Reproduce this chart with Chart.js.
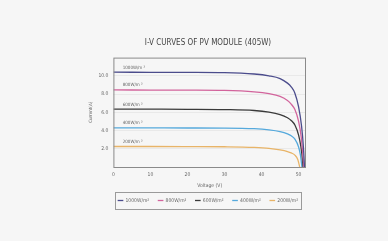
<!DOCTYPE html>
<html>
<head>
<meta charset="utf-8">
<script src="https://cdn.jsdelivr.net/npm/chart.js@4/dist/chart.umd.min.js"></script>
<style>
  html, body { margin: 0; padding: 0; background: #f6f6f6; }
  #wrap { width: 388px; height: 241px; }
</style>
</head>
<body>
<div id="wrap"><canvas id="ivChart"></canvas></div>
<script>
// Etiketler ve değerler (resimden okunan yaklaşık değerler)
const curveLabels = ["1000W/m²", "800W/m²", "600W/m²", "400W/m²", "200W/m²"];
const noteLabels = ["1000W/m ²", "800W/m ²", "600W/m ²", "400W/m ²", "200W/m ²"];
const curveColors = ["#4b4c8c", "#d2649c", "#3a3a3a", "#55a9dc", "#e8b468"];

// Gerilim (V) noktaları, her eğri için ayrı
const volt1000 = [0, 10, 20, 30, 38, 42, 45, 47, 48, 49, 50, 50.8, 51.3, 51.6];
const amp1000  = [10.4, 10.39, 10.38, 10.35, 10.2, 10.0, 9.7, 9.2, 8.8, 8.1, 6.6, 4.5, 2.2, 0];
const volt800  = [0, 10, 20, 30, 38, 42, 45, 47, 48, 49, 50, 50.7, 51.1, 51.4];
const amp800   = [8.45, 8.44, 8.43, 8.4, 8.25, 8.05, 7.75, 7.3, 6.9, 6.3, 5.0, 3.3, 1.6, 0];
const volt600  = [0, 10, 20, 30, 38, 42, 45, 47, 48, 49, 50, 50.6, 51.0, 51.2];
const amp600   = [6.35, 6.34, 6.33, 6.3, 6.2, 6.02, 5.75, 5.4, 5.1, 4.6, 3.5, 2.3, 1.0, 0];
const volt400  = [0, 10, 20, 30, 38, 42, 45, 47, 48, 49, 50, 50.5, 50.9];
const amp400   = [4.3, 4.29, 4.28, 4.27, 4.2, 4.07, 3.88, 3.63, 3.42, 3.05, 2.2, 1.3, 0];
const volt200  = [0, 10, 20, 30, 38, 42, 45, 47, 48, 49, 49.8, 50.3];
const amp200   = [2.25, 2.25, 2.24, 2.22, 2.15, 2.05, 1.88, 1.7, 1.55, 1.3, 0.8, 0];

const yTicks = [2, 4, 6, 8, 10];
const xTicks = [0, 10, 20, 30, 40, 50];

const voltSets = [volt1000, volt800, volt600, volt400, volt200];
const ampSets = [amp1000, amp800, amp600, amp400, amp200];

const FONT = "'Liberation Sans Narrow', 'DejaVu Sans Condensed', 'Liberation Sans', sans-serif";
const TXT = "#666";

function toPoints(vs, as) {
    return vs.map((v, i) => ({ x: v, y: as[i] }));
}

const datasets = curveLabels.map((lbl, i) => ({
    label: lbl,
    data: toPoints(voltSets[i], ampSets[i]),
    borderColor: curveColors[i],
    backgroundColor: curveColors[i],
    borderWidth: 1.3,
    pointRadius: 0,
    cubicInterpolationMode: 'monotone',
    fill: false
}));

// Çizim alanı çerçevesi, eğri notları ve lejant kutusu
const extrasPlugin = {
    id: 'extras',
    afterLayout(chart) {
        // başlık ve lejantı çizim alanının ortasına kaydır
        const shift = 14;
        [chart.titleBlock, chart.legend].forEach(b => {
            if (b) { b.left += shift; b.right += shift; }
        });
    },
    afterDraw(chart) {
        const ctx = chart.ctx;
        const a = chart.chartArea;
        const xs = chart.scales.x, ys = chart.scales.y;
        ctx.save();
        ctx.strokeStyle = "#8a8a8a";
        ctx.lineWidth = 1;
        ctx.strokeRect(a.left + 0.5, a.top + 0.5, a.right - a.left - 1, a.bottom - a.top);

        // eğri üzerindeki notlar
        ctx.fillStyle = TXT;
        ctx.font = "4.5px " + FONT;
        ctx.textBaseline = 'bottom';
        ctx.textAlign = 'left';
        noteLabels.forEach((t, i) => {
            ctx.fillText(t, xs.getPixelForValue(2.5), ys.getPixelForValue(ampSets[i][0]) - 2.5);
        });

        // lejant çerçevesi
        const boxes = chart.legend.legendHitBoxes;
        if (boxes && boxes.length) {
            const l = Math.min(...boxes.map(b => b.left)) - 3;
            const r = Math.max(...boxes.map(b => b.left + b.width)) + 3;
            const t = Math.min(...boxes.map(b => b.top)) - 6;
            const btm = Math.max(...boxes.map(b => b.top + b.height)) + 6;
            ctx.strokeStyle = "#9a9a9a";
            ctx.strokeRect(Math.round(l) + 0.5, Math.round(t) + 0.5, Math.round(r - l), Math.round(btm - t));
        }
        ctx.restore();
    }
};

new Chart(document.getElementById("ivChart").getContext('2d'), {
    type: 'line',
    data: { datasets: datasets },
    options: {
        responsive: true,
        maintainAspectRatio: false,
        animation: false,
        layout: { padding: { left: 82, right: 82, top: 38, bottom: 28 } },
        plugins: {
            title: {
                display: true,
                text: "I-V CURVES OF PV MODULE (405W)",
                color: "#444",
                font: { family: FONT, size: 8, weight: 'normal' },
                padding: { top: 0, bottom: 10 }
            },
            legend: {
                position: 'bottom',
                labels: {
                    color: TXT,
                    font: { family: FONT, size: 5 },
                    usePointStyle: true,
                    pointStyle: 'line',
                    boxWidth: 16,
                    boxHeight: 4,
                    padding: 9
                }
            },
            tooltip: { enabled: false }
        },
        scales: {
            x: {
                type: 'linear',
                min: 0,
                max: 52,
                afterBuildTicks: s => { s.ticks = xTicks.map(v => ({ value: v })); },
                grid: { display: false, drawTicks: false },
                border: { display: false },
                ticks: { color: TXT, font: { family: FONT, size: 5 }, padding: 5 },
                title: { display: true, text: "Voltage (V)", color: TXT, font: { family: FONT, size: 5 }, padding: { top: 0, bottom: 0 } }
            },
            y: {
                type: 'linear',
                min: 0,
                max: 12,
                afterBuildTicks: s => { s.ticks = yTicks.map(v => ({ value: v })); },
                grid: { color: "#e6e6e6", drawTicks: false, lineWidth: 0.8 },
                border: { display: false },
                ticks: { color: TXT, font: { family: FONT, size: 5 }, padding: 5, callback: v => v.toFixed(1) },
                title: { display: true, text: "Current(A)", color: TXT, font: { family: FONT, size: 4.5 }, padding: { top: 6, bottom: 0 } }
            }
        }
    },
    plugins: [extrasPlugin]
});
</script>
</body>
</html>
